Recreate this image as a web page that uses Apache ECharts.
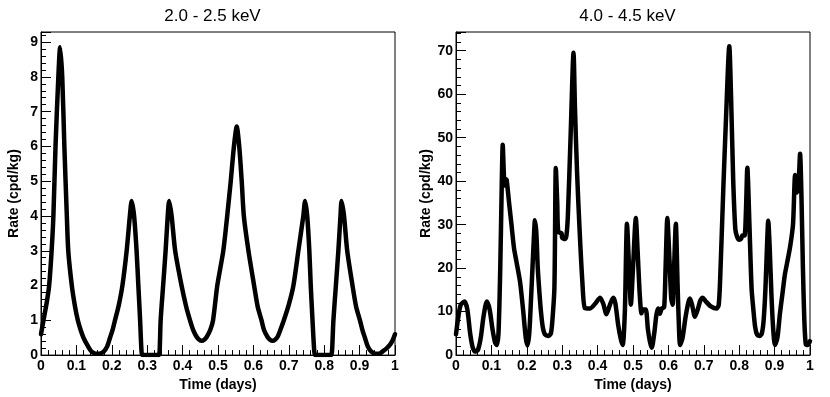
<!DOCTYPE html>
<html>
<head>
<meta charset="utf-8">
<script src="https://cdn.jsdelivr.net/npm/echarts@6/dist/echarts.min.js"></script>
<style>
  html, body { margin: 0; padding: 0; background: #fff; }
  #chart { width: 830px; height: 397px; }
</style>
</head>
<body>
<div id="chart"></div>
<script>
// 2.0 - 2.5 keV
var timeA = [0.000, 0.007, 0.016, 0.023, 0.030, 0.035, 0.041, 0.049, 0.054, 0.060, 0.066, 0.073, 0.077, 0.087,
    0.096, 0.104, 0.112, 0.120, 0.133, 0.143, 0.155, 0.165, 0.177, 0.187, 0.195, 0.202, 0.209, 0.220, 0.230, 0.242,
    0.251, 0.256, 0.263, 0.270, 0.275, 0.280, 0.284, 0.287, 0.332, 0.335, 0.338, 0.345, 0.352, 0.358, 0.362,
    0.369, 0.379, 0.397, 0.410, 0.421, 0.430, 0.440, 0.447, 0.454, 0.461, 0.468, 0.478, 0.486, 0.498, 0.515,
    0.526, 0.536, 0.545, 0.553, 0.560, 0.567, 0.573, 0.586, 0.602, 0.612, 0.623, 0.630, 0.640, 0.647, 0.654,
    0.661, 0.668, 0.676, 0.686, 0.700, 0.713, 0.727, 0.741, 0.746, 0.752, 0.758, 0.762, 0.767, 0.772, 0.775,
    0.819, 0.822, 0.826, 0.833, 0.840, 0.846, 0.849, 0.856, 0.865, 0.880, 0.890, 0.901, 0.908, 0.915, 0.923,
    0.933, 0.945, 0.955, 0.967, 0.977, 0.986, 0.993, 1.000];
var rateA = [0.60, 1.0, 1.5, 2.0, 3.0, 4.0, 6.0, 8.0, 8.85, 8.0, 6.0, 4.0, 3.0, 2.0,
    1.4, 1.0, 0.72, 0.5, 0.25, 0.1, 0.04, 0.04, 0.1, 0.25, 0.5, 0.72, 1.0, 1.45, 2.0, 3.0,
    4.0, 4.43, 4.0, 3.0, 2.0, 1.0, 0.1, 0.0, 0.0, 0.1, 1.0, 2.0, 3.0, 4.0, 4.43,
    4.0, 3.0, 2.0, 1.4, 1.0, 0.72, 0.52, 0.44, 0.41, 0.44, 0.52, 0.72, 1.0, 2.0, 3.0,
    4.0, 5.0, 6.0, 6.57, 6.0, 5.0, 4.0, 3.0, 2.0, 1.4, 1.0, 0.72, 0.52, 0.44, 0.41,
    0.44, 0.52, 0.72, 1.0, 1.45, 2.0, 3.0, 4.0, 4.43, 4.0, 3.0, 2.0, 1.0, 0.1, 0.0,
    0.0, 0.1, 1.0, 2.0, 3.0, 4.0, 4.43, 4.0, 3.0, 2.0, 1.4, 1.0, 0.72, 0.5, 0.25,
    0.1, 0.04, 0.04, 0.12, 0.2, 0.3, 0.42, 0.6];

// 4.0 - 4.5 keV
var timeB = [0.000, 0.006, 0.013, 0.024, 0.032, 0.040, 0.047, 0.054, 0.062, 0.070, 0.078, 0.087, 0.095, 0.103,
    0.110, 0.115, 0.120, 0.125, 0.129, 0.132, 0.135, 0.137, 0.140, 0.143, 0.150, 0.157, 0.164, 0.171, 0.181,
    0.190, 0.197, 0.202, 0.207, 0.212, 0.216, 0.220, 0.223, 0.227, 0.231, 0.236, 0.240, 0.245, 0.251, 0.261,
    0.268, 0.272, 0.278, 0.282, 0.286, 0.289, 0.298, 0.300, 0.308, 0.312, 0.316, 0.324, 0.332, 0.336, 0.342,
    0.349, 0.357, 0.364, 0.378, 0.393, 0.407, 0.416, 0.425, 0.435, 0.444, 0.450, 0.458, 0.466, 0.471, 0.477,
    0.483, 0.489, 0.494, 0.500, 0.508, 0.513, 0.519, 0.524, 0.528, 0.536, 0.542, 0.548, 0.553, 0.560, 0.566,
    0.571, 0.576, 0.581, 0.588, 0.592, 0.597, 0.603, 0.608, 0.612, 0.616, 0.621, 0.626, 0.630, 0.633, 0.640,
    0.648, 0.656, 0.661, 0.667, 0.675, 0.684, 0.690, 0.697, 0.705, 0.720, 0.736, 0.742, 0.746, 0.755, 0.763,
    0.772, 0.777, 0.783, 0.789, 0.794, 0.800, 0.805, 0.809, 0.815, 0.819, 0.823, 0.829, 0.835, 0.840, 0.845,
    0.851, 0.858, 0.864, 0.869, 0.874, 0.879, 0.882, 0.886, 0.891, 0.896, 0.901, 0.908, 0.915, 0.922, 0.929,
    0.936, 0.944, 0.952, 0.958, 0.962, 0.964, 0.968, 0.972, 0.976, 0.980, 0.984, 0.988, 0.993, 1.000];
var rateB = [4.8, 8.5, 11.5, 12.3, 10.5, 5.0, 1.8, 0.8, 1.2, 4.0, 9.0, 12.3, 10.5, 6.0,
    3.0, 2.3, 5.0, 20.0, 38.0, 48.4, 42.0, 39.0, 40.5, 40.3, 35.0, 29.8, 24.5, 21.4, 16.8,
    10.0, 4.0, 2.2, 5.0, 13.0, 20.0, 27.0, 31.0, 28.0, 20.0, 14.0, 10.0, 6.5, 4.8, 4.4,
    5.0, 7.7, 15.5, 43.0, 35.0, 28.3, 28.0, 27.0, 26.7, 27.5, 32.0, 51.0, 69.5, 57.0, 42.0,
    29.0, 16.8, 10.8, 10.7, 11.8, 13.2, 11.8, 9.4, 11.6, 13.2, 12.0, 7.0, 3.5, 2.3, 10.0,
    30.2, 20.0, 11.6, 20.0, 31.5, 24.0, 14.0, 9.6, 10.5, 10.5, 6.0, 3.0, 1.7, 5.0, 9.2,
    10.7, 9.5, 10.7, 11.0, 20.0, 31.5, 22.0, 13.0, 11.6, 20.0, 30.2, 16.0, 6.0, 2.3, 4.0,
    8.5, 12.0, 13.0, 11.5, 8.8, 10.8, 12.5, 13.2, 12.4, 11.2, 10.7, 11.5, 17.0, 38.0, 55.0,
    71.0, 59.5, 40.4, 29.0, 27.2, 26.5, 26.7, 27.5, 27.5, 33.0, 43.1, 29.7, 15.3, 10.5, 6.5,
    4.6, 4.4, 5.0, 8.0, 15.0, 26.0, 30.9, 25.0, 14.0, 6.0, 2.3, 4.0, 9.5, 14.0, 18.5,
    21.5, 25.0, 30.0, 41.4, 39.0, 37.4, 40.0, 46.3, 36.0, 20.0, 8.0, 2.5, 2.3, 3.2];

var titles = ["2.0 - 2.5 keV", "4.0 - 4.5 keV"];
var yMax = [9.29, 74.3];
var yStep = [1, 10];

function pairs(xs, ys) {
    var out = [];
    for (var i = 0; i < xs.length; i++) out.push([xs[i], ys[i]]);
    return out;
}

var font = "'Liberation Sans', Arial, Helvetica, sans-serif";
var labelStyle = { fontFamily: font, fontWeight: "bold", fontSize: 14, color: "#000" };

function makeX(gi) {
    return {
        type: "value", gridIndex: gi, min: 0, max: 1, interval: 0.1,
        name: "Time (days)", nameLocation: "middle", nameGap: 17,
        nameTextStyle: labelStyle,
        axisLine: { show: true, onZero: false, lineStyle: { color: "#000", width: 1 } },
        axisTick: { show: true, inside: true, length: 10, lineStyle: { color: "#000", width: 1 } },
        minorTick: { show: true, splitNumber: 5, length: 5, lineStyle: { color: "#000", width: 1 } },
        axisLabel: Object.assign({ margin: 4 }, labelStyle),
        splitLine: { show: false }
    };
}

function makeY(gi) {
    return {
        type: "value", gridIndex: gi, min: 0, max: yMax[gi], interval: yStep[gi],
        name: "Rate (cpd/kg)", nameLocation: "middle", nameGap: 20,
        nameTextStyle: labelStyle,
        axisLine: { show: true, onZero: false, lineStyle: { color: "#000", width: 1 } },
        axisTick: { show: true, inside: true, length: 10, lineStyle: { color: "#000", width: 1 } },
        minorTick: { show: true, splitNumber: 5, length: 5, lineStyle: { color: "#000", width: 1 } },
        axisLabel: Object.assign({ margin: 3, showMaxLabel: false }, labelStyle),
        splitLine: { show: false }
    };
}

function makeSeries(gi, xs, ys) {
    return {
        type: "line", xAxisIndex: gi, yAxisIndex: gi,
        data: pairs(xs, ys),
        showSymbol: false, smooth: 0.25, clip: true,
        lineStyle: { color: "#000", width: 4.5, join: "round", cap: "round" },
        itemStyle: { color: "#000" },
        animation: false
    };
}

var chart = echarts.init(document.getElementById("chart"));
chart.setOption({
    backgroundColor: "#fff",
    animation: false,
    title: [
        { text: titles[0], left: 207.5, top: 3, textAlign: "center",
          textStyle: { fontFamily: font, fontWeight: "normal", fontSize: 17, color: "#000" } },
        { text: titles[1], left: 622.5, top: 3, textAlign: "center",
          textStyle: { fontFamily: font, fontWeight: "normal", fontSize: 17, color: "#000" } }
    ],
    grid: [
        { left: 41, right: 435, top: 32, bottom: 40, show: true, borderColor: "#000", borderWidth: 1, backgroundColor: "transparent" },
        { left: 456, right: 20, top: 32, bottom: 40, show: true, borderColor: "#000", borderWidth: 1, backgroundColor: "transparent" }
    ],
    xAxis: [makeX(0), makeX(1)],
    yAxis: [makeY(0), makeY(1)],
    series: [makeSeries(0, timeA, rateA), makeSeries(1, timeB, rateB)]
});
</script>
</body>
</html>
